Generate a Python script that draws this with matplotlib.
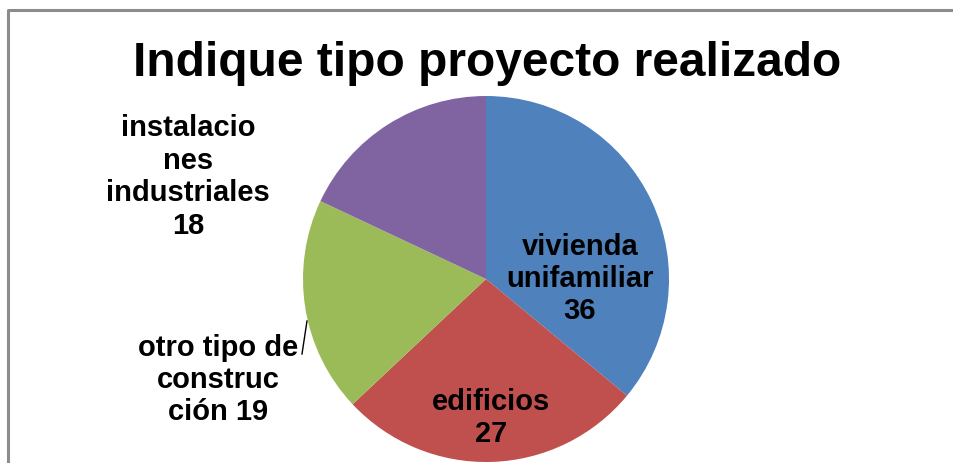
import matplotlib.pyplot as plt

# datos del gráfico
categorias = ["vivienda\nunifamiliar\n36", "edificios\n27",
              "otro tipo de\nconstruc\nción 19",
              "instalacio\nnes\nindustriales\n18"]
valores = [36, 27, 19, 18]
colores = ["#4F81BD", "#C0504D", "#9BBB59", "#8064A2"]

# posiciones de etiquetas en píxeles (x, y desde arriba)
pos_etiquetas = [(580, 279), (491, 418), (218, 380), (188, 177)]

W, H = 954, 464
plt.rcParams["font.family"] = ["Liberation Sans", "DejaVu Sans"]

fig = plt.figure(figsize=(W / 100, H / 100), dpi=100)
ax = fig.add_axes([0, 0, 1, 1])

# marco gris del área del gráfico
ax.plot([8, 8, W + 5], [-5, H - 11, H - 11], color="#8c8c8c", lw=2.2,
        solid_capstyle="butt")

ax.pie(valores, colors=colores, startangle=90, counterclock=False,
       center=(486, H - 280), radius=183, frame=True,
       wedgeprops={"linewidth": 0})
ax.set_xlim(0, W)
ax.set_ylim(0, H)
ax.set_aspect("equal")
ax.set_axis_off()

for txt, (x, y) in zip(categorias, pos_etiquetas):
    ax.text(x, H - y, txt, ha="center", va="center", fontsize=21,
            fontweight="bold", linespacing=1.2, color="black")

# línea guía de "otro tipo de construcción"
ax.plot([302, 307], [H - 355, H - 322], color="black", lw=1)

ax.text(487, H - 76, "Indique tipo proyecto realizado", ha="center",
        va="baseline", fontsize=34.5, fontweight="bold", color="black")

fig.savefig("out.png", dpi=100)
